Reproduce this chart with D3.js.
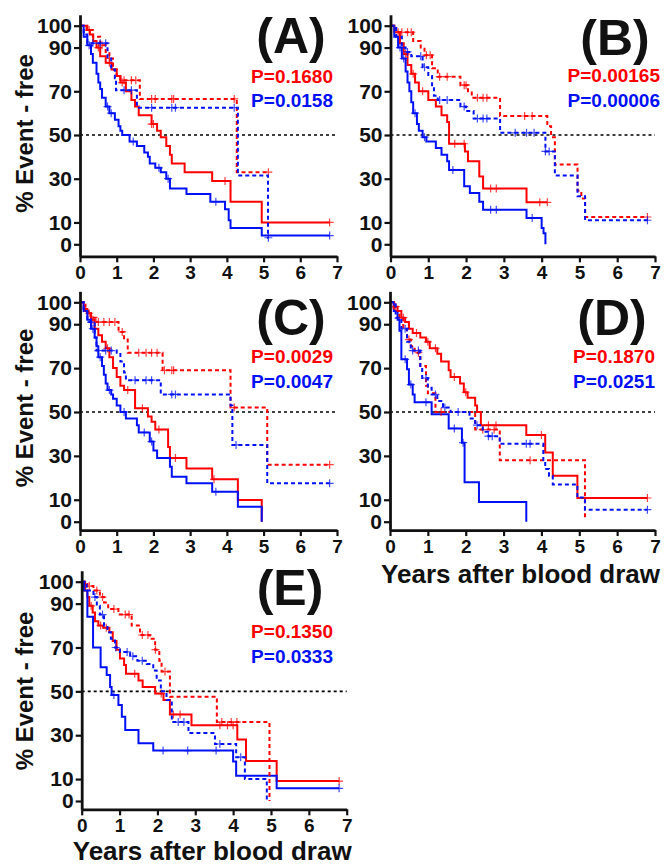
<!doctype html>
<html>
<head>
<meta charset="utf-8">
<style>
  body { margin: 0; background: #fff; }
  svg { display: block; font-family: "Liberation Sans", Arial, sans-serif; font-weight: bold; }
</style>
<script src="https://d3js.org/d3.v7.min.js"></script>
</head>
<body>
<svg width="666" height="865"></svg>
<script>
// ---- data: [years, % event-free after the step] and censor times ----
const years = [0, 1, 2, 3, 4, 5, 6, 7];
const pctTicks = [0, 10, 30, 50, 70, 90, 100];
const panelNames = ["(A)", "(B)", "(C)", "(D)", "(E)"];
const pRed = ["P=0.1680", "P=0.00165", "P=0.0029", "P=0.1870", "P=0.1350"];
const pBlue = ["P=0.0158", "P=0.00006", "P=0.0047", "P=0.0251", "P=0.0333"];

// panel A
const aRedSolid = [[0.18,98],[0.27,96],[0.36,93],[0.45,90],[0.55,86],[0.7,83],[0.86,80],[1.0,77],[1.1,74],[1.25,70],[1.4,66],[1.5,63],[1.6,59],[1.95,55],[2.1,52],[2.2,49],[2.35,45],[2.45,41],[2.5,37],[2.85,33],[3.6,29],[4.1,19.5],[4.95,10]];
const aRedSolidCens = [0.25,0.5,0.8,1.15,1.95,2.0,3.95,6.8];
const aBlueSolid = [[0.1,95],[0.2,91],[0.3,87],[0.35,83],[0.45,78],[0.5,74],[0.55,71],[0.6,67],[0.7,63],[0.8,60],[0.95,57],[1.05,54],[1.1,52],[1.15,50],[1.35,47],[1.55,45],[1.75,42],[1.85,40],[1.9,37],[2.05,35],[2.2,33],[2.35,30],[2.45,25.5],[2.9,23],[3.55,19.5],[3.95,16],[4.05,11],[4.1,7.5],[4.95,4]];
const aBlueSolidCens = [0.25,0.75,0.85,1.45,2.15,2.4,3.7,6.8];
const aRedDash = [[0.2,98],[0.35,95],[0.55,91],[0.7,88],[0.8,85],[0.9,80],[1.0,76.5],[1.1,75],[1.63,66.5],[4.27,33]];
const aRedDashCens = [0.6,0.8,1.2,1.4,1.52,1.95,2.05,2.5,2.55,4.2,5.13];
const aBlueDash = [[0.1,96],[0.2,92],[0.75,85],[0.85,80],[0.95,76],[0.98,70.5],[1.55,62.5],[4.3,31.5],[5.12,3]];
const aBlueDashCens = [0.35,0.55,0.7,1.2,1.4,1.95,2.5,2.6,4.2,5.13];

// panel B
const bRedSolid = [[0.1,97],[0.25,92],[0.35,87],[0.45,82],[0.55,78],[0.65,74],[0.75,70],[1.0,66],[1.2,63],[1.35,59],[1.5,56],[1.55,46],[1.97,42.5],[2.05,38],[2.35,31],[2.45,25.5],[3.6,19.2]];
const bRedSolidCens = [0.2,0.4,0.6,0.85,1.7,1.95,2.65,2.8,3.95,4.15];
const bBlueSolid = [[0.1,95],[0.2,90],[0.3,85],[0.4,79],[0.45,74],[0.5,70],[0.55,65],[0.6,60],[0.7,55],[0.75,52],[0.85,49],[0.95,47],[1.2,44],[1.35,41],[1.5,38],[1.55,34],[1.95,26.5],[2.1,23.5],[2.35,19.5],[2.45,15.8],[3.6,12],[4.0,7.5],[4.05,5],[4.1,0]];
const bBlueSolidCens = [0.25,0.35,0.65,0.9,1.65,2.65,2.8,3.75];
const bRedDash = [[0.15,97],[0.6,93],[0.8,90],[0.9,86.5],[1.1,80.5],[1.25,76.7],[1.85,72.8],[2.05,70],[2.15,67],[2.9,58.7],[4.15,54],[4.25,49],[4.35,36.5],[4.95,24.5],[5.05,21],[5.15,12.5]];
const bRedDashCens = [0.3,0.45,0.55,0.95,1.05,1.3,1.5,1.95,2.0,2.3,2.45,2.55,3.55,3.75,6.8];
const bBlueDash = [[0.15,95],[0.3,90],[0.4,88],[0.55,86],[0.85,81],[1.0,77],[1.1,72],[1.15,68],[1.25,66],[1.85,63],[2.0,61],[2.2,57.5],[2.9,51],[4.1,42.5],[4.35,31.5],[4.95,22],[5.15,11]];
const bBlueDashCens = [0.45,0.8,0.9,1.3,1.5,1.95,2.3,2.45,2.55,3.3,3.6,3.8,4.1,4.2,6.8];

// panel C
const cRedSolid = [[0.1,97],[0.2,95],[0.3,92],[0.4,88],[0.5,85],[0.6,82],[0.7,79],[0.8,75],[0.9,70],[1.0,66],[1.1,62],[1.2,60],[1.5,51.7],[1.85,48],[1.95,45.5],[2.05,42],[2.4,34],[2.45,29],[2.9,24.3],[3.6,19.3],[4.3,9.9],[4.95,0]];
const cRedSolidCens = [0.25,0.35,0.75,1.3,1.7,2.15,2.6,3.65];
const cBlueSolid = [[0.1,96],[0.2,92],[0.3,88],[0.4,84],[0.45,80],[0.5,75],[0.6,71],[0.65,67],[0.7,63],[0.75,60],[0.85,58],[0.9,56],[1.0,53],[1.1,50],[1.25,47],[1.55,44],[1.6,40.7],[1.9,36.5],[2.0,32.5],[2.1,29],[2.45,25],[2.5,20.5],[2.9,17.5],[3.6,13.7],[4.3,6.8],[4.95,0]];
const cBlueSolidCens = [0.35,0.55,0.8,1.2,1.75,1.95,3.7];
const cRedDash = [[0.15,96],[0.3,93],[0.45,91],[1.05,86.5],[1.2,83],[1.3,77],[2.25,69],[4.1,52],[5.1,26]];
const cRedDashCens = [0.5,0.65,0.8,0.95,1.15,1.6,1.8,1.95,2.1,2.3,2.5,2.55,4.2,6.8];
const cBlueDash = [[0.1,96],[0.2,91],[0.4,84],[0.45,78],[1.0,77],[1.1,73],[1.2,68],[1.25,64.5],[2.2,58],[4.1,53],[4.15,35],[5.1,17.5]];
const cBlueDashCens = [0.3,0.5,0.7,0.85,1.5,1.8,1.95,2.5,2.6,4.25,6.8];

// panel D
const dRedSolid = [[0.1,98],[0.2,96],[0.3,93],[0.4,91],[0.5,88],[0.6,86],[0.8,84],[0.95,82],[1.05,79],[1.25,76.5],[1.35,73],[1.55,69],[1.6,66],[1.85,63],[1.95,59],[2.05,56.5],[2.25,53],[2.3,50],[2.4,44],[3.6,39.5],[4.1,31.5],[4.3,21],[4.95,10.8]];
const dRedSolidCens = [0.15,0.35,0.7,1.0,1.2,1.7,2.0,2.6,2.8,4.0,6.8];
const dBlueSolid = [[0.1,96],[0.2,92],[0.25,87],[0.3,74],[0.45,69.5],[0.5,62.5],[0.6,58],[0.65,54.5],[1.1,49],[1.55,42.5],[1.9,36],[1.97,18],[2.35,9],[3.6,0]];
const dBlueSolidCens = [0.4,0.55,0.95,1.7,1.93];
const dRedDash = [[0.1,96],[0.25,93],[0.35,88],[0.45,83],[0.55,80],[0.65,77],[0.8,71],[0.95,62],[1.0,58.5],[1.2,50],[2.25,42],[2.9,28],[5.15,2]];
const dRedDashCens = [0.5,0.75,1.35,2.45,2.75,3.7];
const dBlueDash = [[0.15,93],[0.3,88],[0.45,82],[0.55,78],[0.8,70],[0.85,65.5],[1.0,61],[1.1,58],[1.25,55],[1.4,52],[1.6,50],[2.1,47],[2.25,44],[2.45,41],[2.6,39],[2.9,35.5],[4.05,27.5],[4.1,24],[4.2,21],[4.3,17],[4.95,11],[5.15,5.5]];
const dBlueDashCens = [0.4,0.6,0.75,0.95,1.2,1.45,1.8,2.3,2.6,2.7,3.6,3.7,6.8];

// panel E
const eRedSolid = [[0.09,96],[0.15,93],[0.2,89],[0.29,86],[0.35,82],[0.44,80],[0.57,79],[0.73,77],[0.82,73],[0.92,69],[1.01,65],[1.12,62],[1.17,58],[1.5,55],[1.61,52],[1.94,49],[2.16,46],[2.33,39.5],[2.9,34.5],[4.11,28],[4.34,18.2],[5.15,9.1]];
const eRedSolidCens = [0.25,0.5,0.65,1.4,2.1,2.42,2.6,3.65,3.85,4.0,6.8];
const eBlueSolid = [[0.06,96],[0.15,84],[0.3,70],[0.5,61],[0.66,57.5],[0.75,52],[0.79,48.3],[0.97,43.8],[1.06,38.4],[1.15,32.4],[1.5,26.3],[1.89,23],[4.0,18],[4.08,11.5],[5.15,5.8]];
const eBlueSolidCens = [0.85,2.15,2.8,3.55,6.8];
const eRedDash = [[0.15,98],[0.31,96],[0.48,93],[0.59,90.5],[0.7,87.5],[0.97,85],[1.32,80],[1.54,75.7],[1.8,74],[1.94,69],[2.05,64],[2.11,59],[2.33,47.5],[3.57,36],[4.96,0]];
const eRedDashCens = [0.2,0.4,0.55,0.85,1.15,1.25,1.6,1.75,1.95,2.2,3.7,3.95,4.1];
const eBlueDash = [[0.13,96],[0.31,93],[0.4,89],[0.48,85],[0.59,80],[0.68,77],[0.77,74],[0.88,70],[1.01,68],[1.28,66],[1.47,64],[1.72,62.5],[1.89,59.5],[1.98,55],[2.09,50],[2.24,46],[2.38,36],[2.82,31],[3.52,26],[4.08,20],[4.31,10],[4.89,0]];
const eBlueDashCens = [0.35,0.55,0.9,1.2,1.35,1.6,2.55,2.7,3.65,4.2];

const curves = [
  [[aRedSolid, aRedSolidCens], [aBlueSolid, aBlueSolidCens], [aRedDash, aRedDashCens], [aBlueDash, aBlueDashCens]],
  [[bRedSolid, bRedSolidCens], [bBlueSolid, bBlueSolidCens], [bRedDash, bRedDashCens], [bBlueDash, bBlueDashCens]],
  [[cRedSolid, cRedSolidCens], [cBlueSolid, cBlueSolidCens], [cRedDash, cRedDashCens], [cBlueDash, cBlueDashCens]],
  [[dRedSolid, dRedSolidCens], [dBlueSolid, dBlueSolidCens], [dRedDash, dRedDashCens], [dBlueDash, dBlueDashCens]],
  [[eRedSolid, eRedSolidCens], [eBlueSolid, eBlueSolidCens], [eRedDash, eRedDashCens], [eBlueDash, eBlueDashCens]]
];
const curveColor = ["#f00", "#0010f5", "#f00", "#0010f5"];
const curveDash = [null, null, "4,3", "4,3"];

// ---- layout of the five panels ----
const layout = [
  { x0: 80,   x7: 337,   y0: 244.3, y100: 25.7,  yMin: -5.5, title: [291, 53],  pX: 333, pY: [82.7, 106.7], yLab: 133.5 },
  { x0: 390.5, x7: 655,  y0: 244.3, y100: 25.7,  yMin: -5.5, title: [615, 55],  pX: 660, pY: [81.7, 106.7] },
  { x0: 80,   x7: 337,   y0: 521.7, y100: 302.3, yMin: -3.8, title: [291, 335], pX: 333, pY: [363, 388], yLab: 408 },
  { x0: 390,  x7: 655,   y0: 521.7, y100: 302.3, yMin: -3.8, title: [612, 335], pX: 655, pY: [363, 388], xLab: 583 },
  { x0: 81.7, x7: 346.7, y0: 801,   y100: 581.7, yMin: -3.8, title: [290, 605], pX: 333, pY: [638, 663], yLab: 691, xLab: 860 }
];

const svg = d3.select("svg");

function levelAt(steps, t) {
  let v = 100;
  steps.forEach(s => { if (s[0] <= t) v = s[1]; });
  return v;
}

layout.forEach((L, i) => {
  const x = d3.scaleLinear().domain([0, 7]).range([L.x0, L.x7]);
  const y = d3.scaleLinear().domain([0, 100]).range([L.y0, L.y100]);
  const g = svg.append("g");

  // 50% reference line
  g.append("line")
    .attr("x1", x(0)).attr("x2", x(7))
    .attr("y1", y(50)).attr("y2", y(50))
    .attr("stroke", "#000").attr("stroke-width", 1.6)
    .attr("stroke-dasharray", "3,3");

  // curves
  curves[i].forEach((c, k) => {
    const steps = c[0], cens = c[1];
    const end = Math.max(steps[steps.length - 1][0], d3.max(cens));
    const pts = [[0, 100]].concat(steps, [[end, steps[steps.length - 1][1]]]);
    const line = d3.line().x(d => x(d[0])).y(d => y(d[1])).curve(d3.curveStepAfter);
    g.append("path")
      .attr("d", line(pts))
      .attr("fill", "none")
      .attr("stroke", curveColor[k])
      .attr("stroke-width", 2)
      .attr("stroke-dasharray", curveDash[k]);
    g.append("g").selectAll("path")
      .data(cens)
      .enter().append("path")
      .attr("d", t => {
        const cx = x(t), cy = y(levelAt(steps, t));
        return `M${cx - 4},${cy}H${cx + 4}M${cx},${cy - 4}V${cy + 4}`;
      })
      .attr("stroke", curveColor[k])
      .attr("stroke-opacity", 0.75)
      .attr("stroke-width", 1.2);
  });

  // axes
  const yAx = d3.scaleLinear().domain([L.yMin, 105]).range([y(L.yMin), y(105)]);
  const gy = g.append("g")
    .attr("transform", `translate(${x(0)},0)`)
    .call(d3.axisLeft(yAx).tickValues(pctTicks).tickSize(6).tickSizeOuter(0).tickPadding(2));
  gy.selectAll("text").style("font-size", "21px").style("font-weight", "bold").attr("fill", "#111");

  const gx = g.append("g")
    .attr("transform", `translate(0,${y(L.yMin)})`)
    .call(d3.axisBottom(x).tickValues(years).tickFormat(d3.format("d")).tickSize(6).tickSizeOuter(0).tickPadding(3));
  gx.selectAll("text").style("font-size", "19px").style("font-weight", "bold").attr("fill", "#111");

  [gx, gy].forEach(a => {
    a.select(".domain").attr("stroke-width", 2.8).attr("stroke", "#111");
    a.selectAll(".tick line").attr("stroke-width", 2.2).attr("stroke", "#111");
    a.style("font-family", "'Liberation Sans', Arial, sans-serif");
  });

  // title and P values
  g.append("text")
    .attr("x", L.title[0]).attr("y", L.title[1])
    .attr("text-anchor", "middle")
    .style("font-size", "50px")
    .attr("fill", "#111")
    .text(panelNames[i]);
  g.append("text")
    .attr("x", L.pX).attr("y", L.pY[0])
    .attr("text-anchor", "end")
    .style("font-size", "19px")
    .attr("fill", "#f00")
    .text(pRed[i]);
  g.append("text")
    .attr("x", L.pX).attr("y", L.pY[1])
    .attr("text-anchor", "end")
    .style("font-size", "19px")
    .attr("fill", "#0010f5")
    .text(pBlue[i]);

  if (L.yLab) {
    g.append("text")
      .attr("transform", `translate(33,${L.yLab}) rotate(-90)`)
      .attr("text-anchor", "middle")
      .style("font-size", "24px")
      .attr("fill", "#111")
      .text("% Event - free");
  }
  if (L.xLab) {
    g.append("text")
      .attr("x", (L.x0 + L.x7) / 2 - 2).attr("y", L.xLab)
      .attr("text-anchor", "middle")
      .style("font-size", "26px")
      .attr("fill", "#111")
      .text("Years after blood draw");
  }
});
</script>
</body>
</html>
